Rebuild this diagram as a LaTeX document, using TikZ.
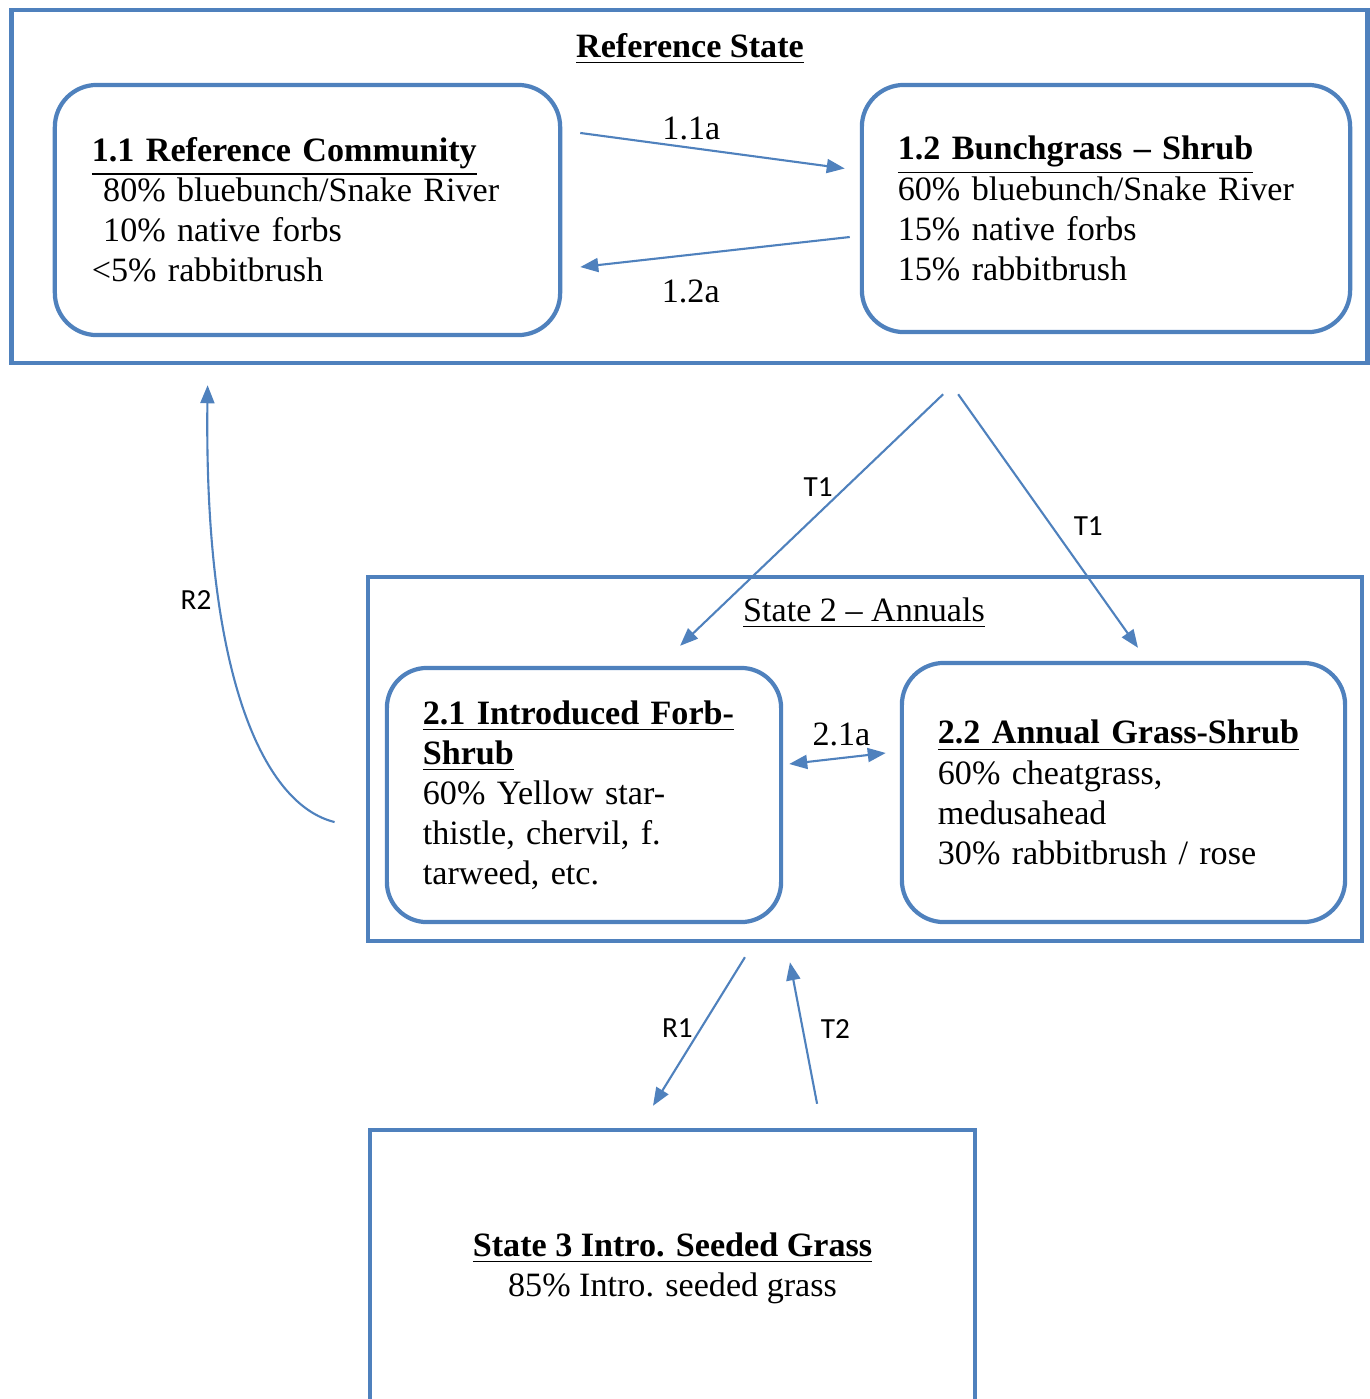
\documentclass[tikz,border=0pt]{standalone}
\usepackage{fontspec}
\setmainfont{Liberation Serif}
\newfontfamily\labelfont{Carlito}
\usepackage{xcolor}
\definecolor{stateblue}{RGB}{79,129,189}
\usetikzlibrary{arrows.meta, positioning}

\begin{document}
\begin{tikzpicture}[
    x=0.01cm, y=-0.01cm,
    boxState/.style={
        rectangle,
        draw=stateblue,
        line width=1.2pt,
        inner sep=0pt
    },
    boxComm/.style={
        rectangle,
        rounded corners=0.42cm,
        draw=stateblue,
        line width=1.2pt,
        inner sep=0pt,
        align=left,
        font=\fontsize{9.7pt}{11.4pt}\selectfont
    },
    titleText/.style={
        inner sep=0pt,
        font=\fontsize{9.7pt}{11.4pt}\selectfont
    },
    arrowLine/.style={
        draw=stateblue,
        line width=0.6pt,
        -{Triangle[length=0.18cm, width=0.14cm]}
    },
    serifLabel/.style={
        font=\fontsize{9.7pt}{11.4pt}\selectfont,
        inner sep=2pt
    },
    sansLabel/.style={
        font=\labelfont\fontsize{8.3pt}{9.6pt}\selectfont,
        inner sep=2pt
    }
]
\useasboundingbox (0,0) rectangle (1370,1399);

% Reference state
\node[boxState, minimum width=13.55cm, minimum height=3.53cm] (refState) at (689.5,186.5) {};
\node[titleText] (refTitle) at (690,49) {\underline{\textbf{Reference State}}};

\node[boxComm, minimum width=5.05cm, minimum height=2.50cm, text width=4.31cm] (comm11) at (307.5,210) {
\underline{\textbf{1.1 Reference Community}}\\
\ 80\% bluebunch/Snake River\\
\ 10\% native forbs\\
<5\% rabbitbrush
};

\node[boxComm, minimum width=4.88cm, minimum height=2.47cm, text width=4.16cm] (comm12) at (1106,208.5) {
\underline{\textbf{1.2 Bunchgrass -- Shrub}}\\
60\% bluebunch/Snake River\\
15\% native forbs\\
15\% rabbitbrush
};

% State 2
\node[boxState, minimum width=9.94cm, minimum height=3.64cm] (annState) at (865,759) {};
\node[titleText] (annTitle) at (864,613) {\underline{State 2 -- Annuals}};

\node[boxComm, rounded corners=0.40cm, minimum width=3.94cm, minimum height=2.54cm, text width=3.22cm] (comm21) at (584,795) {
\underline{\textbf{2.1 Introduced Forb-}}\\
\underline{\textbf{Shrub}}\\
60\% Yellow star-\\
thistle, chervil, f.\\
tarweed, etc.
};

\node[boxComm, minimum width=4.43cm, minimum height=2.59cm, text width=3.71cm] (comm22) at (1123.5,792.5) {
\underline{\textbf{2.2 Annual Grass-Shrub}}\\
60\% cheatgrass,\\
medusahead\\
30\% rabbitbrush / rose
};

% State 3
\node[boxState, minimum width=6.05cm, minimum height=2.76cm, align=center,
      font=\fontsize{9.7pt}{11.4pt}\selectfont] (seedState) at (672.5,1268) {
\underline{\textbf{State 3 Intro. Seeded Grass}}\\
85\% Intro. seeded grass
};

% Community pathways
\draw[arrowLine] ([xshift=0.18cm, yshift=0.77cm]comm11.east)
    -- node[serifLabel, above, pos=0.42] {1.1a} ([xshift=-0.15cm, yshift=0.40cm]comm12.west);
\draw[arrowLine] ([xshift=-0.10cm, yshift=-0.285cm]comm12.west)
    -- node[serifLabel, below=5pt, pos=0.59] {1.2a} ([xshift=0.18cm, yshift=-0.57cm]comm11.east);
\draw[arrowLine, {Triangle[length=0.18cm, width=0.14cm]}-{Triangle[length=0.18cm, width=0.14cm]}]
    ([xshift=0.06cm, yshift=0.31cm]comm21.east)
    -- node[serifLabel, above, xshift=0.04cm, yshift=0.04cm] {2.1a} ([xshift=-0.14cm, yshift=0.395cm]comm22.west);

% Transitions
\draw[arrowLine] ([xshift=2.535cm, yshift=-0.29cm]refState.south)
    -- node[sansLabel, left, pos=0.37, xshift=-0.05cm] {T1} ([xshift=0.96cm, yshift=0.20cm]comm21.north);
\draw[arrowLine] ([xshift=2.685cm, yshift=-0.29cm]refState.south)
    -- node[sansLabel, right, pos=0.52, xshift=0.14cm] {T1} ([xshift=0.145cm, yshift=0.13cm]comm22.north);
\draw[arrowLine] ([xshift=-0.31cm, yshift=-0.63cm]annState.west)
    .. controls (265,805) and (204,680) .. node[sansLabel, left, pos=0.71] {R2}
    ([xshift=1.98cm, yshift=-0.20cm]refState.south west);
\draw[arrowLine] ([xshift=-1.20cm, yshift=-0.14cm]annState.south)
    -- node[sansLabel, left, pos=0.48] {R1} ([xshift=-0.195cm, yshift=0.22cm]seedState.north);
\draw[arrowLine] ([xshift=1.445cm, yshift=0.24cm]seedState.north)
    -- node[sansLabel, right, pos=0.53, xshift=0.1cm] {T2} ([xshift=-0.75cm, yshift=-0.19cm]annState.south);

\end{tikzpicture}
\end{document}
